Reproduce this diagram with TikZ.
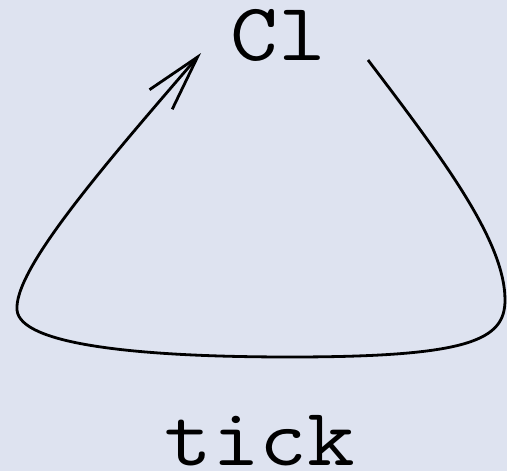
\documentclass[tikz,border=0pt]{standalone}
\usetikzlibrary{arrows.meta}
\definecolor{BackClr}{RGB}{222,227,240}
\definecolor{LoopClr}{rgb}{0,0,0}

\begin{document}
\begin{tikzpicture}[x=1pt,y=1pt,
  lbl/.style={anchor=base,inner sep=0pt,xscale=1.13,font=\ttfamily\fontsize{82}{82}\selectfont},
  loopline/.style={line width=2.8pt,color=LoopClr,-{Straight Barb[length=56pt,width=30pt,line width=2.8pt]}}]
\fill[BackClr] (0,0) rectangle (507,-471);
\useasboundingbox (0,0) rectangle (507,-471);

\node[lbl] (Cl) at (278,-60) {Cl};
\node[lbl] (tick) at (260,-465) {tick};

\coordinate (out) at (368,-60);
\coordinate (r) at (505,-300);
\coordinate (b) at (290,-357);
\coordinate (l) at (17,-310);
\coordinate (in) at (201,-53);

\draw[loopline] (out) .. controls (440,-155) and (505,-240) .. (r)
  .. controls (505,-340) and (470,-357) .. (b)
  .. controls (140,-357) and (20,-345) .. (l)
  .. controls (14,-270) and (100,-170) .. (in);

\end{tikzpicture}
\end{document}
